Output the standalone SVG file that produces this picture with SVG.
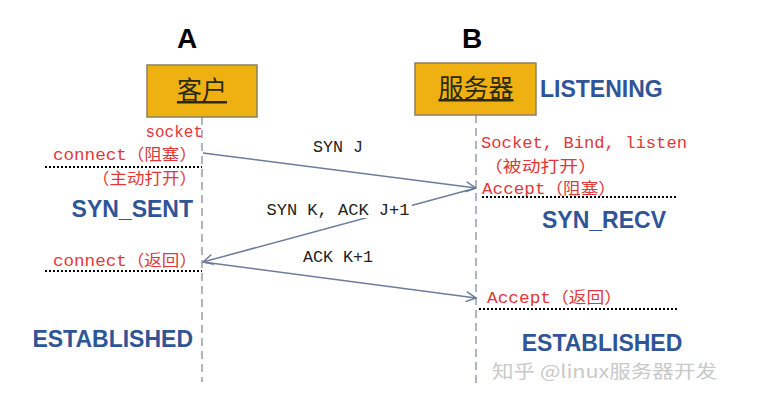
<svg xmlns="http://www.w3.org/2000/svg" width="768" height="413" viewBox="0 0 768 413">
<style>
.title{font-family:"Liberation Sans",Arial,sans-serif;font-weight:bold;font-size:28px;fill:#000;text-anchor:middle}
.box{fill:#efb111;stroke:#8d8060;stroke-width:1.5}
.boxt{font-family:"Noto Sans CJK SC",sans-serif;font-size:25px;fill:#2a2a10;text-anchor:middle;text-decoration:underline}
.life{stroke:#9fa3ad;stroke-width:1.6;stroke-dasharray:8 5;fill:none}
.state{font-family:"Liberation Sans",Arial,sans-serif;font-weight:bold;font-size:23px;fill:#2f5597}
.red{font-family:"Liberation Mono","Noto Sans CJK SC",monospace;font-size:16px;fill:#e0393b}
.msg{font-family:"Liberation Mono","Noto Sans CJK SC",monospace;font-size:16px;fill:#222;text-anchor:middle}
.dot{stroke:#000;stroke-width:2;stroke-dasharray:2 2;fill:none}
.arr{stroke:#6d7c9c;stroke-width:1.5;fill:none}
.wm{font-family:"Noto Sans CJK SC",sans-serif;font-size:18px;fill:#c9c9c9}
</style>
<defs>
<marker id="ah" markerWidth="12" markerHeight="12" refX="11" refY="6" orient="auto" markerUnits="userSpaceOnUse">
<path d="M1,1 L11,6 L1,11" fill="none" stroke="#6d7c9c" stroke-width="1.5"/>
</marker>
</defs>

<g id="nodeA">
<text class="title" x="187" y="48">A</text>
<line class="life" x1="202" y1="117" x2="202" y2="382"/>
<rect class="box" x="147" y="65" width="110" height="52"/>
<text class="boxt" x="202" y="99">客户</text>
<text class="red" x="203" y="137" text-anchor="end">socket</text>
<text class="red" x="197" y="160" text-anchor="end" textLength="144" lengthAdjust="spacingAndGlyphs">connect（阻塞）</text>
<line class="dot" x1="45" y1="167" x2="202" y2="167"/>
<text class="red" x="197" y="184" text-anchor="end" textLength="105" lengthAdjust="spacingAndGlyphs">（主动打开）</text>
<text class="state" x="193" y="217" text-anchor="end">SYN_SENT</text>
<text class="red" x="197" y="266" text-anchor="end" textLength="144" lengthAdjust="spacingAndGlyphs">connect（返回）</text>
<line class="dot" x1="45" y1="271" x2="202" y2="271"/>
<text class="state" x="193" y="347" text-anchor="end">ESTABLISHED</text>
</g>

<g id="nodeB">
<text class="title" x="472" y="48">B</text>
<line class="life" x1="476" y1="115" x2="476" y2="383"/>
<rect class="box" x="415" y="63" width="121" height="52"/>
<text class="boxt" x="476" y="97">服务器</text>
<text class="state" x="540" y="97">LISTENING</text>
<text class="red" x="481" y="148" textLength="206" lengthAdjust="spacingAndGlyphs">Socket, Bind, listen</text>
<text class="red" x="484" y="172" textLength="113" lengthAdjust="spacingAndGlyphs">（被动打开）</text>
<text class="red" x="482" y="194" textLength="134" lengthAdjust="spacingAndGlyphs">Accept（阻塞）</text>
<line class="dot" x1="482" y1="197" x2="677" y2="197"/>
<text class="state" x="604" y="228" text-anchor="middle">SYN_RECV</text>
<text class="red" x="487" y="303" textLength="135" lengthAdjust="spacingAndGlyphs">Accept（返回）</text>
<line class="dot" x1="479" y1="309" x2="677" y2="309"/>
<text class="state" x="602" y="351" text-anchor="middle">ESTABLISHED</text>
</g>

<g id="connectors">
<line class="arr" x1="203" y1="153" x2="476" y2="188" marker-end="url(#ah)"/>
<text class="msg" x="338" y="152" textLength="50" lengthAdjust="spacingAndGlyphs">SYN J</text>
<line class="arr" x1="476" y1="188" x2="203" y2="262" marker-end="url(#ah)"/>
<rect x="264" y="200" width="148" height="18" fill="#fff"/>
<text class="msg" x="338" y="215" textLength="143" lengthAdjust="spacingAndGlyphs">SYN K, ACK J+1</text>
<line class="arr" x1="203" y1="262" x2="476" y2="298" marker-end="url(#ah)"/>
<text class="msg" x="338" y="262" textLength="70" lengthAdjust="spacingAndGlyphs">ACK K+1</text>
</g>

<text class="wm" x="492" y="378" textLength="225" lengthAdjust="spacingAndGlyphs">知乎 @linux服务器开发</text>
</svg>
